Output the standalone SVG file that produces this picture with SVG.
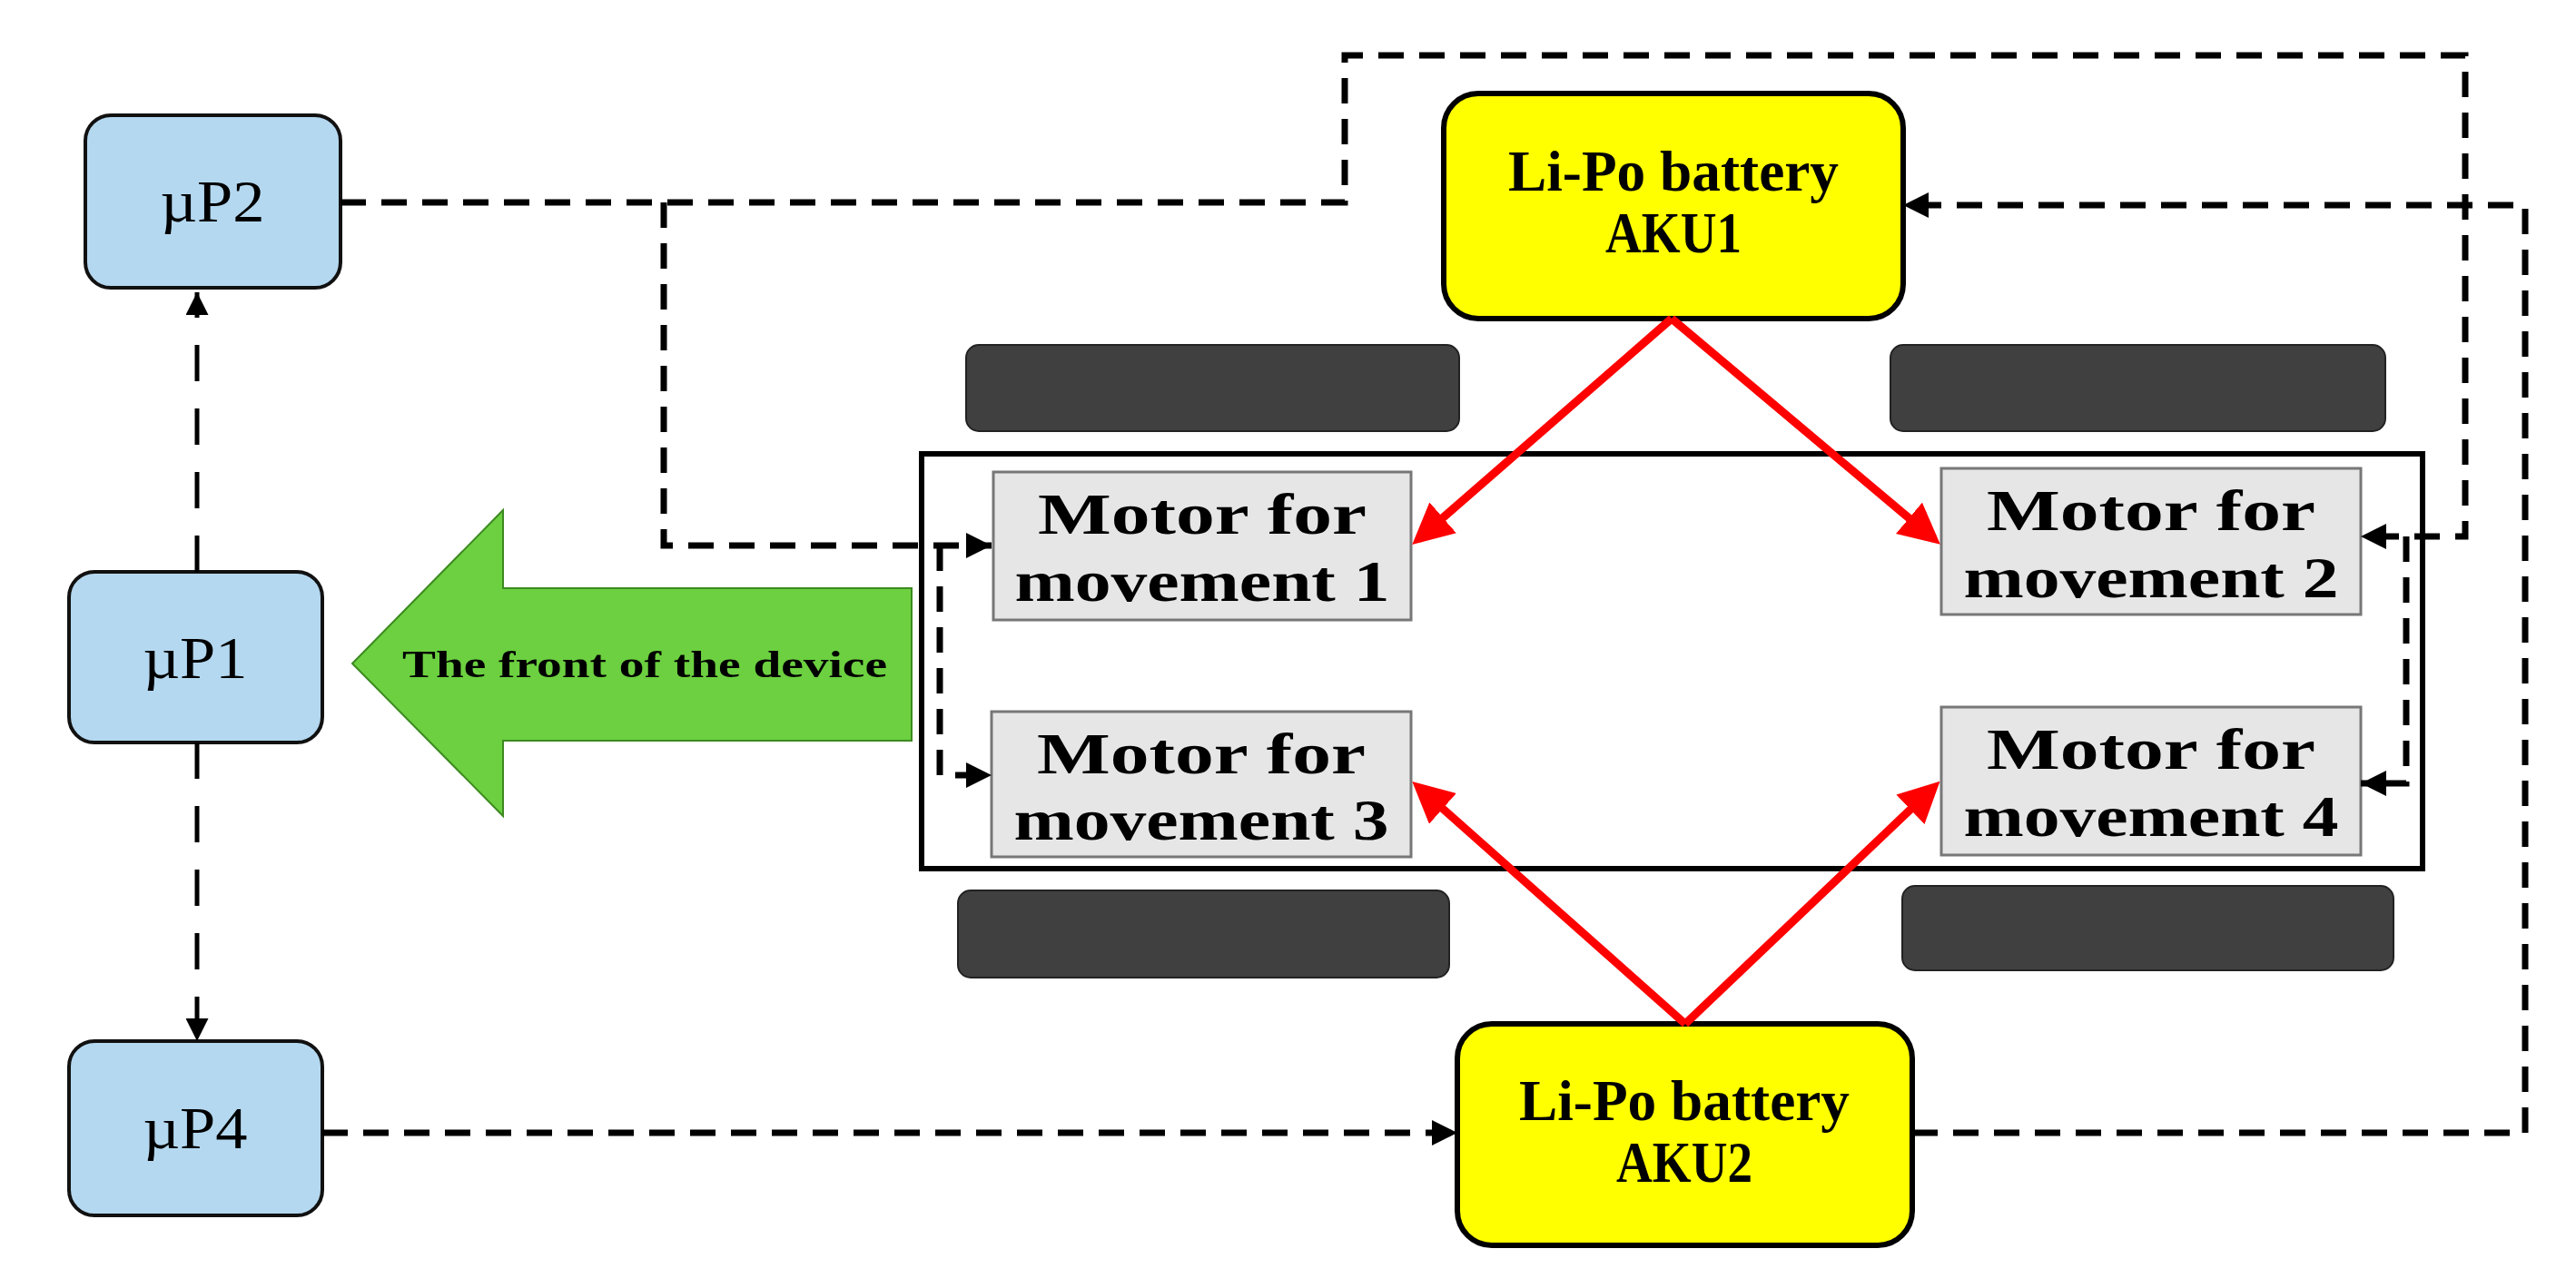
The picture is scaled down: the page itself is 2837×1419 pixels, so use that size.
<svg xmlns="http://www.w3.org/2000/svg" width="2837" height="1419" viewBox="0 0 2837 1419">
<style>
.up{fill:#b4d8f0;stroke:#111;stroke-width:4}
.bat{fill:#ffff00;stroke:#000;stroke-width:6}
.mot{fill:#e6e6e6;stroke:#777;stroke-width:3}
.wh{fill:#404040;stroke:#222;stroke-width:2}
.t{font-family:"Liberation Serif",serif;font-weight:bold;fill:#000;text-anchor:middle}
.n{font-weight:normal;font-size:66px}
.m{font-size:64px}
.d{fill:none;stroke:#000;stroke-width:7;stroke-dasharray:28 17}
.dv{fill:none;stroke:#000;stroke-width:5;stroke-dasharray:40 30}
.r{fill:none;stroke:#ff0000;stroke-width:9}
</style>
<defs>
<marker id="a" viewBox="0 0 10 10" refX="10" refY="5" markerWidth="4" markerHeight="4" orient="auto" markerUnits="strokeWidth"><path d="M0,0L10,5L0,10z" fill="#000"/></marker>
<marker id="av" viewBox="0 0 10 10" refX="10" refY="5" markerWidth="5" markerHeight="5" orient="auto" markerUnits="strokeWidth"><path d="M0,0L10,5L0,10z" fill="#000"/></marker>
<marker id="ar" viewBox="0 0 10 10" refX="8" refY="5" markerWidth="5" markerHeight="5" orient="auto" markerUnits="strokeWidth"><path d="M0,0L10,5L0,10z" fill="#ff0000"/></marker>
</defs>
<g id="wheels">
<rect class="wh" x="1064" y="380" width="543" height="95" rx="14"/>
<rect class="wh" x="2082" y="380" width="545" height="95" rx="14"/>
<rect class="wh" x="1055" y="981" width="541" height="96" rx="14"/>
<rect class="wh" x="2095" y="976" width="541" height="93" rx="14"/>
</g>
<g id="chassis"><rect x="1015" y="500" width="1653" height="457" fill="none" stroke="#000" stroke-width="6"/></g>
<g id="front">
<polygon points="388,731 554,562 554,648 1004,648 1004,816 554,816 554,899" fill="#6cd040" stroke="#3c8a20" stroke-width="2"/>
<text class="t" x="710" y="746" font-size="42" textLength="534" lengthAdjust="spacingAndGlyphs">The front of the device</text>
</g>
<g id="uP2"><rect class="up" x="94" y="127" width="281" height="190" rx="28"/><text class="t n" x="234" y="244" textLength="115" lengthAdjust="spacingAndGlyphs">µP2</text></g>
<g id="uP1"><rect class="up" x="76" y="630" width="279" height="188" rx="28"/><text class="t n" x="215" y="747" textLength="115" lengthAdjust="spacingAndGlyphs">µP1</text></g>
<g id="uP4"><rect class="up" x="76" y="1147" width="279" height="192" rx="28"/><text class="t n" x="215" y="1265" textLength="115" lengthAdjust="spacingAndGlyphs">µP4</text></g>
<g id="AKU1"><rect class="bat" x="1590" y="103" width="506" height="248" rx="38"/><text class="t m" x="1843" y="210" textLength="364" lengthAdjust="spacingAndGlyphs">Li-Po battery</text><text class="t m" x="1843" y="278" textLength="150" lengthAdjust="spacingAndGlyphs">AKU1</text></g>
<g id="AKU2"><rect class="bat" x="1605" y="1128" width="501" height="244" rx="38"/><text class="t m" x="1855" y="1234" textLength="364" lengthAdjust="spacingAndGlyphs">Li-Po battery</text><text class="t m" x="1855" y="1302" textLength="150" lengthAdjust="spacingAndGlyphs">AKU2</text></g>
<g id="M1"><rect class="mot" x="1094" y="520" width="460" height="163"/><text class="t m" x="1324" y="588" textLength="362" lengthAdjust="spacingAndGlyphs">Motor for</text><text class="t m" x="1324" y="662" textLength="413" lengthAdjust="spacingAndGlyphs">movement 1</text></g>
<g id="M2"><rect class="mot" x="2138" y="516" width="462" height="161"/><text class="t m" x="2369" y="584" textLength="362" lengthAdjust="spacingAndGlyphs">Motor for</text><text class="t m" x="2369" y="658" textLength="413" lengthAdjust="spacingAndGlyphs">movement 2</text></g>
<g id="M3"><rect class="mot" x="1092" y="784" width="462" height="160"/><text class="t m" x="1323" y="852" textLength="362" lengthAdjust="spacingAndGlyphs">Motor for</text><text class="t m" x="1323" y="925" textLength="413" lengthAdjust="spacingAndGlyphs">movement 3</text></g>
<g id="M4"><rect class="mot" x="2138" y="779" width="462" height="163"/><text class="t m" x="2369" y="847" textLength="362" lengthAdjust="spacingAndGlyphs">Motor for</text><text class="t m" x="2369" y="921" textLength="413" lengthAdjust="spacingAndGlyphs">movement 4</text></g>
<g id="connectors">
<path class="dv" d="M217,630V322" marker-end="url(#av)"/>
<path class="dv" d="M217,818V1147" marker-end="url(#av)"/>
<path class="d" d="M375,223H1481V61H2715V591H2600" marker-end="url(#a)"/>
<path class="d" d="M2650,591V863H2600" marker-end="url(#a)"/>
<path class="d" d="M731,223V601H1092" marker-end="url(#a)"/>
<path class="d" d="M1035,601V854H1092" marker-end="url(#a)"/>
<path class="d" d="M355,1248H1605" marker-end="url(#a)"/>
<path class="d" d="M2106,1248H2781V226H2096" marker-end="url(#a)"/>
<path class="r" d="M1841,351L1562,594" marker-end="url(#ar)"/>
<path class="r" d="M1841,351L2130,594" marker-end="url(#ar)"/>
<path class="r" d="M1856,1128L1562,867" marker-end="url(#ar)"/>
<path class="r" d="M1856,1128L2130,867" marker-end="url(#ar)"/>
</g>
</svg>
